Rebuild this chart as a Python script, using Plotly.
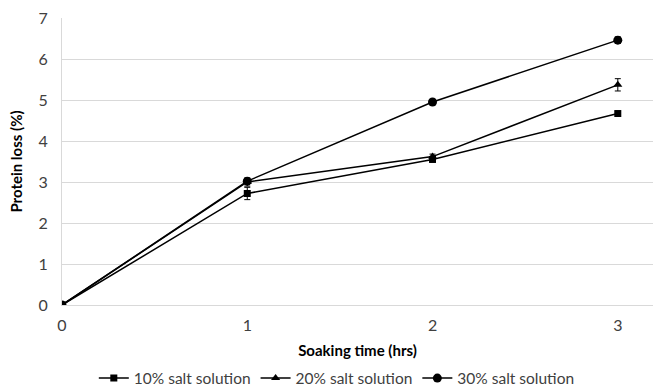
import plotly.graph_objects as go

time_hrs = [0, 1, 2, 3]
salt10 = [0, 2.72, 3.55, 4.67]
salt20 = [0, 3.0, 3.62, 5.37]
salt30 = [0, 3.02, 4.95, 6.46]
err10 = [0.0, 0.15, 0.06, 0.04]
err20 = [0.0, 0.1, 0.06, 0.15]
err30 = [0.0, 0.05, 0.03, 0.08]
names = ["10% salt solution", "20% salt solution", "30% salt solution"]
symbols = ["square", "triangle-up", "circle"]
sizes = [7, 8, 9]

fig = go.Figure()
for name, ys, errs, sym, sz in zip(names, [salt10, salt20, salt30], [err10, err20, err30], symbols, sizes):
    fig.add_trace(go.Scatter(
        x=time_hrs, y=ys, name=name, mode="lines+markers",
        line=dict(color="black", width=1.5),
        marker=dict(symbol=sym, size=sz, color="black"),
        error_y=dict(type="data", array=errs, visible=True, color="black", thickness=1, width=3),
    ))

font = "Lato, 'Open Sans', Arial, sans-serif"
fig.update_layout(
    width=653, height=390,
    margin=dict(l=62, r=0, t=18, b=85, autoexpand=False),
    plot_bgcolor="white", paper_bgcolor="white",
    font=dict(family=font, size=15, color="#404040"),
    showlegend=True,
    legend=dict(orientation="h", x=0.465, xanchor="center", xref="paper",
                y=-0.197, yanchor="top", yref="paper",
                font=dict(size=15.5, color="#404040"), itemwidth=30, tracegroupgap=0),
    xaxis=dict(range=[0, 3.19], tickvals=[0, 1, 2, 3], showgrid=False, automargin=False,
               zeroline=False, showline=True, linecolor="#d9d9d9", linewidth=1,
               ticks="", ticklabelstandoff=6, tickfont=dict(size=16),
               title=dict(text="<b>Soaking time (hrs)</b>", font=dict(size=15, color="#000"), standoff=12)),
    yaxis=dict(range=[0, 7], dtick=1, showgrid=True, gridcolor="#d9d9d9", gridwidth=1, automargin=False,
               zeroline=False, showline=True, linecolor="#d9d9d9", linewidth=1,
               ticks="", ticklabelstandoff=10, tickfont=dict(size=16),
               title=dict(text="<b>Protein loss (%)</b>", font=dict(size=15, color="#000"), standoff=12)),
)
fig.write_html("out.html")
